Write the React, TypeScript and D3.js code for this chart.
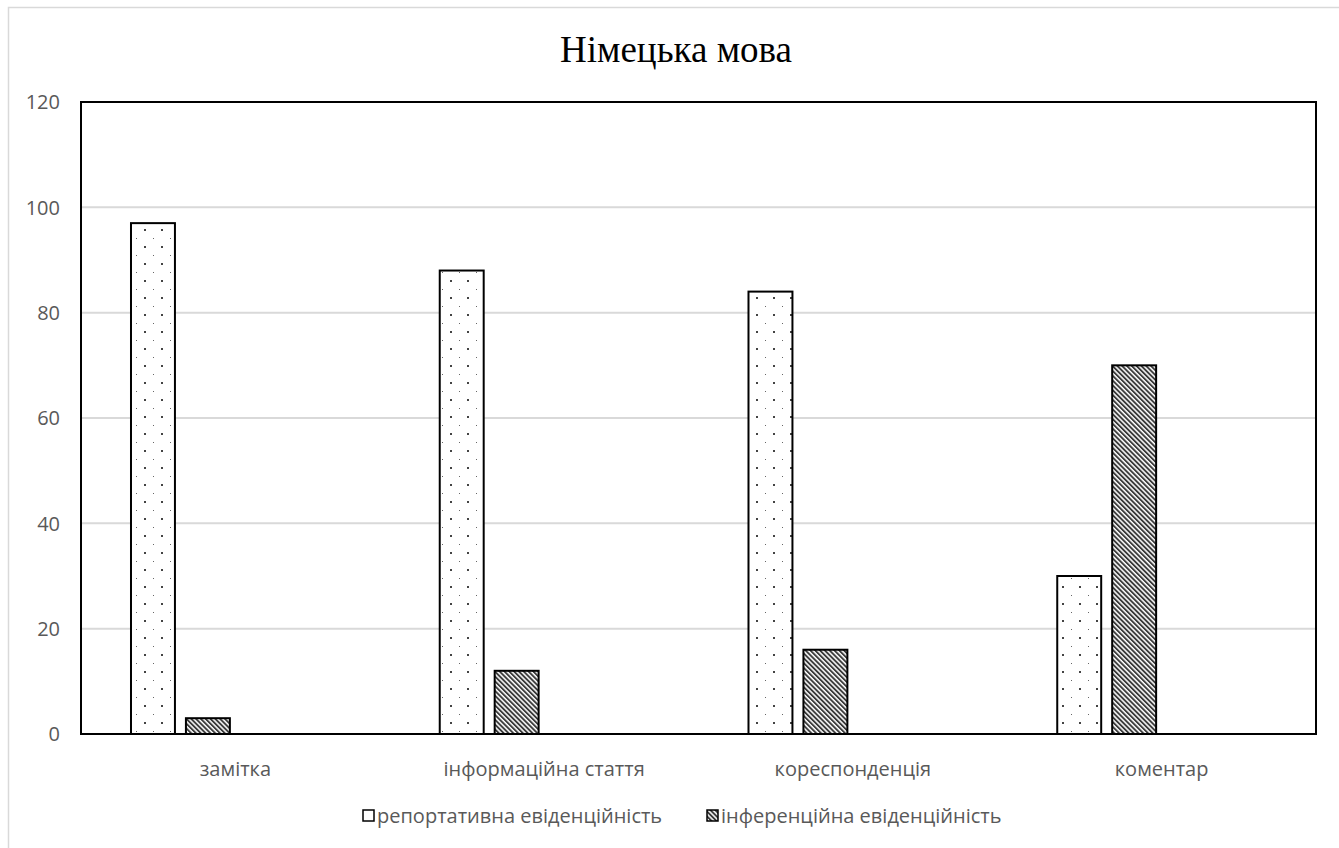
import React from "react";
import * as d3 from "d3";

const categories = ["замітка", "інформаційна стаття", "кореспонденція", "коментар"];
const seriesNames = ["репортативна евіденційність", "інференційна евіденційність"];
const reportative = [97, 88, 84, 30];
const inferential = [3, 12, 16, 70];
const yTicks = [0, 20, 40, 60, 80, 100, 120];
// cluster layout keeps four slots per category; only the first two carry data
const clusterSlots = ["s0", "s1", "s2", "s3"];

const W = 1339;
const H = 848;
const M = { left: 81, right: 1316, top: 102, bottom: 734 };
const FONT = "'Open Sans', sans-serif";
const GRAY = "#595959";

export default function App() {
  const x = d3.scaleBand<string>().domain(categories).range([M.left, M.right]).paddingInner(0).paddingOuter(0);
  const y = d3.scaleLinear().domain([0, 120]).range([M.bottom, M.top]);
  const inner = d3
    .scaleBand<string>()
    .domain(clusterSlots)
    .range([0, x.bandwidth()])
    .paddingInner(0.2)
    .paddingOuter(0.91);

  const series = [
    { name: seriesNames[0], values: reportative, fill: "url(#dots)", swatch: "#fff", slot: "s0", lx: 363 },
    { name: seriesNames[1], values: inferential, fill: "url(#hatch)", swatch: "url(#hatch)", slot: "s1", lx: 707 },
  ];

  return (
    <svg width={W} height={H} style={{ position: "absolute", left: 0, top: 0, display: "block" }}>
      <defs>
        <pattern id="dots" patternUnits="userSpaceOnUse" width={17} height={17}>
          <rect width={17} height={17} fill="#fff" />
          <rect x={0} y={0} width={1} height={1} fill="#666" />
          <rect x={8} y={8} width={2} height={2} fill="#444" />
        </pattern>
        <pattern id="hatch" patternUnits="userSpaceOnUse" width={3.4} height={6} patternTransform="rotate(-45)">
          <rect width={3.4} height={6} fill="#fff" />
          <rect x={0} y={0} width={1.9} height={6} fill="#3a3a3a" />
        </pattern>
      </defs>

      {/* outer chart frame */}
      <rect x={8.5} y={7.5} width={W + 20} height={H + 20} fill="#fff" stroke="#d9d9d9" strokeWidth={1.5} />

      <text x={676} y={62} textAnchor="middle" fontFamily="'Liberation Serif', 'Times New Roman', serif" fontSize={37} fill="#000">
        Німецька мова
      </text>

      {/* gridlines */}
      {yTicks.filter((t) => t > 0 && t < 120).map((t) => (
        <line key={t} x1={M.left} x2={M.right} y1={y(t)} y2={y(t)} stroke="#d9d9d9" strokeWidth={2} />
      ))}

      {/* y tick labels */}
      {yTicks.map((t) => (
        <text key={t} x={60} y={y(t)} dy="0.36em" textAnchor="end" fontFamily={FONT} fontSize={20} fill={GRAY}>
          {t}
        </text>
      ))}

      {/* bars */}
      {series.map((s) =>
        categories.map((c, i) => {
          const bx = (x(c) as number) + (inner(s.slot) as number);
          return (
            <rect
              key={s.name + c}
              x={bx}
              y={y(s.values[i])}
              width={inner.bandwidth()}
              height={y(0) - y(s.values[i])}
              fill={s.fill}
              stroke="#000"
              strokeWidth={2}
            />
          );
        })
      )}

      {/* plot frame */}
      <rect x={M.left} y={M.top} width={M.right - M.left} height={M.bottom - M.top} fill="none" stroke="#000" strokeWidth={2} />

      {/* category labels */}
      {categories.map((c) => (
        <text key={c} x={(x(c) as number) + x.bandwidth() / 2} y={776} textAnchor="middle" fontFamily={FONT} fontSize={20} fill={GRAY}>
          {c}
        </text>
      ))}

      {/* legend */}
      {series.map((s) => (
        <g key={s.name}>
          <rect x={s.lx} y={810} width={11} height={11} fill={s.swatch} stroke="#000" strokeWidth={1.5} />
          <text x={s.lx + 14} y={816} dy="0.36em" fontFamily={FONT} fontSize={20} fill={GRAY}>
            {s.name}
          </text>
        </g>
      ))}
    </svg>
  );
}
